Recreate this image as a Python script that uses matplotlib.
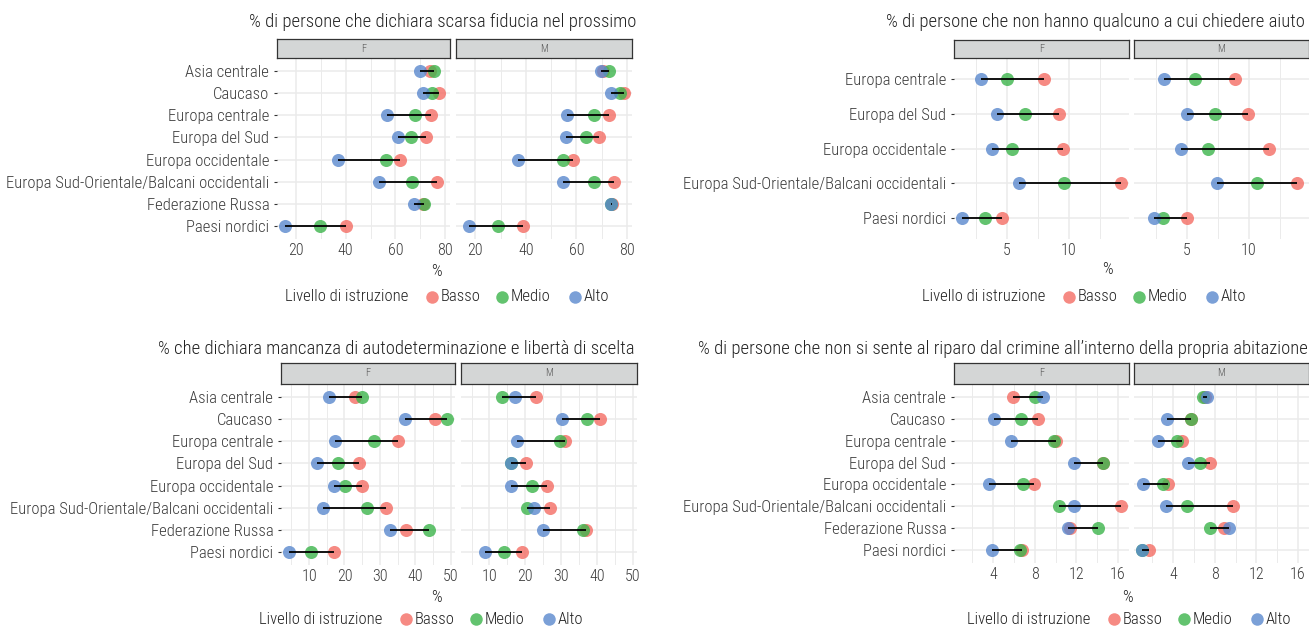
import numpy as np
import matplotlib.pyplot as plt
from matplotlib.lines import Line2D
from matplotlib import font_manager

# famiglia stretta se disponibile, altrimenti Lato
nomi = {f.name for f in font_manager.fontManager.ttflist}
famiglie = [f for f in ['Roboto Condensed', 'Liberation Sans Narrow', 'Lato'] if f in nomi]
plt.rcParams['font.family'] = famiglie + ['DejaVu Sans']
plt.rcParams['font.weight'] = 'light'

# categorie
regioni8 = ['Asia centrale', 'Caucaso', 'Europa centrale', 'Europa del Sud',
            'Europa occidentale', 'Europa Sud-Orientale/Balcani occidentali',
            'Federazione Russa', 'Paesi nordici']
regioni5 = ['Europa centrale', 'Europa del Sud', 'Europa occidentale',
            'Europa Sud-Orientale/Balcani occidentali', 'Paesi nordici']
livelli = ['Basso', 'Medio', 'Alto']

# scarsa fiducia nel prossimo
fid_basso_F = [74.0, 77.7, 74.4, 72.4, 62.0, 76.7, 71.0, 40.0]
fid_medio_F = [75.7, 74.8, 68.0, 66.1, 56.3, 66.7, 71.7, 29.7]
fid_alto_F = [70.0, 71.0, 56.8, 61.0, 37.0, 53.5, 67.5, 15.5]
fid_basso_M = [70.5, 78.8, 72.7, 69.0, 58.8, 74.8, 74.0, 38.8]
fid_medio_M = [73.0, 77.3, 67.0, 63.7, 54.5, 66.8, 73.7, 28.8]
fid_alto_M = [69.6, 73.7, 56.4, 55.7, 36.7, 54.8, 73.8, 17.3]

# nessuno a cui chiedere aiuto
aiu_basso_F = [8.0, 9.2, 9.5, 14.2, 4.6]
aiu_medio_F = [5.0, 6.5, 5.4, 9.6, 3.25]
aiu_alto_F = [2.95, 4.2, 3.8, 6.0, 1.4]
aiu_basso_M = [8.9, 9.9, 11.6, 13.9, 5.0]
aiu_medio_M = [5.65, 7.3, 6.7, 10.65, 3.1]
aiu_alto_M = [3.2, 5.05, 4.55, 7.45, 2.35]

# mancanza di autodeterminazione
aut_basso_F = [23.0, 45.7, 35.2, 24.0, 25.0, 31.6, 37.4, 17.0]
aut_medio_F = [25.0, 49.0, 28.4, 18.3, 20.2, 26.4, 43.8, 10.5]
aut_alto_F = [15.7, 37.1, 17.3, 12.2, 17.0, 13.8, 32.9, 4.3]
aut_basso_M = [23.1, 41.0, 31.2, 20.3, 26.2, 27.0, 37.1, 19.0]
aut_medio_M = [13.5, 37.2, 29.8, 16.0, 21.9, 20.5, 36.2, 14.1]
aut_alto_M = [17.1, 30.2, 17.6, 16.0, 16.0, 22.4, 25.0, 8.9]

# non al riparo dal crimine
cri_basso_F = [5.9, 8.3, 10.05, 14.6, 7.9, 16.3, 11.4, 6.8]
cri_medio_F = [8.05, 6.7, 9.9, 14.55, 6.85, 10.3, 14.05, 6.6]
cri_alto_F = [8.75, 4.05, 5.75, 11.75, 3.6, 11.75, 11.2, 3.9]
cri_basso_M = [7.1, 5.7, 4.85, 7.5, 3.5, 9.75, 8.85, 1.7]
cri_medio_M = [6.85, 5.75, 4.4, 6.55, 3.05, 5.35, 7.5, 1.0]
cri_alto_M = [7.3, 3.4, 2.55, 5.45, 1.1, 3.35, 9.4, 1.05]

colori = {'Basso': '#F46D64', 'Medio': '#3CB44B', 'Alto': '#5A88CE'}
grid_col = '#EBEBEB'
text_col = '#3C3C3C'

stretto = famiglie[:1] in (['Roboto Condensed'], ['Liberation Sans Narrow'])
fs_tit = 13.4 if stretto else 12
fs_lab = 12 if stretto else 11
fs_tick = 11.5 if stretto else 11

W, H = 1309, 628
fig = plt.figure(figsize=(W / 100, H / 100), dpi=100)


def rect(x0, y0, x1, y1):
    return [x0 / W, 1 - y1 / H, (x1 - x0) / W, (y1 - y0) / H]


def pannello(titolo, cats, serie, major, minor, box, titolo_xy, perc_xy, leg_xy):
    # box: (xF0, xF1, xM0, xM1, y_strip, y0, y1) in pixel
    xF0, xF1, xM0, xM1, ys, y0, y1 = box
    tutti = np.concatenate([np.asarray(v) for s in serie.values() for v in s])
    lo, hi = tutti.min(), tutti.max()
    pad = (hi - lo) * 0.05
    n = len(cats)
    y = np.arange(n)
    for sesso, (xa, xb) in [('F', (xF0, xF1)), ('M', (xM0, xM1))]:
        ax = fig.add_axes(rect(xa, y0, xb, y1))
        vals = serie[sesso]
        for liv, v in zip(livelli, vals):
            ax.plot(v, y, 'o', ms=9.4, color=colori[liv], alpha=0.8, mec='none', zorder=3)
        arr = np.array(vals)
        ax.hlines(y, arr.min(axis=0), arr.max(axis=0), color='black', lw=1.3, zorder=4)
        ax.set_xlim(lo - pad, hi + pad)
        ax.set_ylim(n - 0.4, -0.6)
        ax.set_xticks(major)
        ax.set_xticks(minor, minor=True)
        ax.set_yticks(y)
        ax.grid(which='major', color=grid_col, lw=1.1)
        ax.grid(which='minor', axis='x', color=grid_col, lw=0.7)
        ax.set_axisbelow(True)
        for sp in ax.spines.values():
            sp.set_visible(False)
        ax.tick_params(axis='x', which='both', length=0, labelsize=fs_tick,
                       labelcolor=text_col, pad=3)
        if sesso == 'F':
            ax.set_yticklabels(cats)
            ax.tick_params(axis='y', length=2.5, width=0.8, color='#333333',
                           labelsize=fs_lab, labelcolor=text_col, pad=3)
        else:
            ax.tick_params(axis='y', length=0, labelleft=False)
        # striscia del facet
        sax = fig.add_axes(rect(xa, ys, xb, y0))
        sax.set_facecolor('#D4D6D6')
        sax.set_xticks([])
        sax.set_yticks([])
        for sp in sax.spines.values():
            sp.set_color('#333333')
            sp.set_linewidth(0.9)
        sax.text(0.5, 0.5, sesso, ha='center', va='center', fontsize=7.5, color='#555555')

    fig.text(titolo_xy[0] / W, 1 - titolo_xy[1] / H, titolo, ha='right', va='center',
             fontsize=fs_tit, color='#222222')
    fig.text(perc_xy[0] / W, 1 - perc_xy[1] / H, '%', ha='center', va='center',
             fontsize=fs_lab, color='#222222')

    # legenda
    lx, ly = leg_xy
    fig.text(lx / W, 1 - ly / H, 'Livello di istruzione', ha='left', va='center',
             fontsize=fs_lab, color='#222222')
    for liv, dc, dt in zip(livelli, [147, 217, 290], [156, 226, 299]):
        fig.add_artist(Line2D([(lx + dc) / W], [1 - ly / H], marker='o', ms=9,
                              color=colori[liv], alpha=0.8, mec='none',
                              transform=fig.transFigure))
        fig.text((lx + dt) / W, 1 - ly / H, liv, ha='left', va='center',
                 fontsize=fs_lab, color='#222222')


pannello('% di persone che dichiara scarsa fiducia nel prossimo', regioni8,
         {'F': [fid_basso_F, fid_medio_F, fid_alto_F],
          'M': [fid_basso_M, fid_medio_M, fid_alto_M]},
         [20, 40, 60, 80], [30, 50, 70],
         (277, 450, 456, 632, 39, 58, 239), (636, 22), (436, 272), (285, 297))

pannello('% di persone che non hanno qualcuno a cui chiedere aiuto', regioni5,
         {'F': [aiu_basso_F, aiu_medio_F, aiu_alto_F],
          'M': [aiu_basso_M, aiu_medio_M, aiu_alto_M]},
         [5, 10], [2.5, 7.5, 12.5],
         (954, 1129, 1134, 1309, 40, 58, 239), (1305, 22), (1107, 270), (922, 297))

pannello('% che dichiara mancanza di autodeterminazione e libertà di scelta', regioni8,
         {'F': [aut_basso_F, aut_medio_F, aut_alto_F],
          'M': [aut_basso_M, aut_medio_M, aut_alto_M]},
         [10, 20, 30, 40, 50], [5, 15, 25, 35, 45],
         (281, 455, 461, 637, 363, 384, 565), (635, 349), (436, 598), (259, 619))

pannello('% di persone che non si sente al riparo dal crimine all\u2019interno della propria abitazione',
         regioni8,
         {'F': [cri_basso_F, cri_medio_F, cri_alto_F],
          'M': [cri_basso_M, cri_medio_M, cri_alto_M]},
         [4, 8, 12, 16], [2, 6, 10, 14],
         (954, 1129, 1134, 1309, 363, 384, 563), (1308, 349), (1127, 597), (967, 619))

fig.savefig('out.png', dpi=100)
